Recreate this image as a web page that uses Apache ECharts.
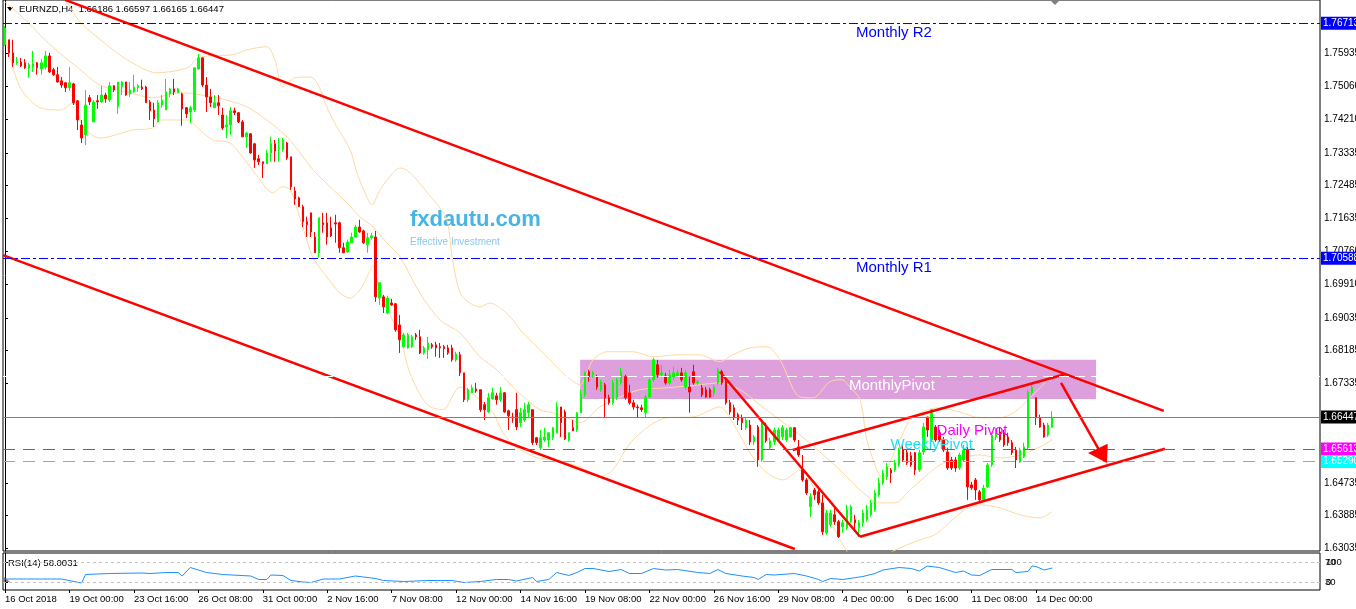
<!DOCTYPE html>
<html><head><meta charset="utf-8">
<script src="https://cdn.jsdelivr.net/npm/echarts@6/dist/echarts.min.js"></script>
<style>html,body{margin:0;padding:0;background:#fff;}#c{width:1356px;height:609px;}</style>
</head><body><div id="c"></div>
<script>
const timeLabels = ['16 Oct 2018','19 Oct 00:00','23 Oct 16:00','26 Oct 08:00','31 Oct 00:00','2 Nov 16:00','7 Nov 08:00','12 Nov 00:00','14 Nov 16:00','19 Nov 08:00','22 Nov 00:00','26 Nov 16:00','29 Nov 08:00','4 Dec 00:00','6 Dec 16:00','11 Dec 08:00','14 Dec 00:00'];
const slotCount = 327;
const priceTicks = [1.75935,1.75060,1.74210,1.73335,1.72485,1.71635,1.70760,1.69910,1.69035,1.68185,1.67335,1.64735,1.63885,1.63035];

const open = [
1.7615,1.7628,1.7594,1.7568,1.7570,1.7568,1.7555,1.7557,1.7568,1.7552,
1.7557,1.7586,1.7550,1.7537,1.7521,1.7516,1.7503,1.7513,1.7469,1.7406,
1.7380,1.7477,1.7414,1.7469,1.7466,1.7484,1.7471,1.7508,1.7453,1.7505,
1.7518,1.7487,1.7492,1.7503,1.7505,1.7505,1.7466,1.7445,1.7414,1.7458,
1.7445,1.7487,1.7500,1.7490,1.7487,1.7451,1.7440,1.7445,1.7552,1.7581,
1.7510,1.7479,1.7451,1.7464,1.7432,1.7401,1.7406,1.7443,1.7438,1.7414,
1.7375,1.7383,1.7357,1.7318,1.7310,1.7305,1.7333,1.7357,1.7344,1.7341,
1.7359,1.7323,1.7234,1.7216,1.7193,1.7154,1.7177,1.7114,1.7073,1.7151,
1.7151,1.7138,1.7151,1.7151,1.7086,1.7075,1.7099,1.7114,1.7140,1.7130,
1.7094,1.7112,1.7114,1.6955,1.6958,1.6916,1.6942,1.6940,1.6885,1.6828,
1.6825,1.6828,1.6859,1.6854,1.6812,1.6820,1.6833,1.6833,1.6828,1.6828,
1.6825,1.6825,1.6794,1.6807,1.6760,1.6690,1.6708,1.6718,1.6716,1.6677,
1.6658,1.6692,1.6700,1.6690,1.6708,1.6661,1.6645,1.6664,1.6630,1.6637,
1.6656,1.6664,1.6591,1.6565,1.6585,1.6585,1.6591,1.6604,1.6671,1.6658,
1.6585,1.6617,1.6611,1.6656,1.6703,1.6763,1.6755,1.6750,1.6716,1.6729,
1.6695,1.6682,1.6695,1.6734,1.6750,1.6708,1.6682,1.6671,1.6669,1.6656,
1.6697,1.6742,1.6781,1.6755,1.6752,1.6734,1.6750,1.6752,1.6760,1.6723,
1.6723,1.6763,1.6734,1.6721,1.6716,1.6716,1.6708,1.6734,1.6763,1.6737,
1.6682,1.6669,1.6651,1.6643,1.6617,1.6624,1.6580,1.6619,1.6533,1.6624,
1.6565,1.6580,1.6585,1.6593,1.6585,1.6593,1.6617,1.6567,1.6507,1.6481,
1.6411,1.6455,1.6450,1.6421,1.6343,1.6364,1.6390,1.6372,1.6359,1.6356,
1.6372,1.6377,1.6356,1.6369,1.6377,1.6390,1.6403,1.6442,1.6473,1.6489,
1.6507,1.6507,1.6520,1.6559,1.6552,1.6544,1.6552,1.6507,1.6554,1.6645,
1.6585,1.6619,1.6604,1.6585,1.6554,1.6533,1.6533,1.6512,1.6533,1.6559,
1.6468,1.6481,1.6450,1.6429,1.6463,1.6520,1.6593,1.6606,1.6604,1.6593,
1.6578,1.6559,1.6528,1.6541,1.6565,1.6708,1.6695,1.6643,1.6624,1.6598,
1.66186];
const close = [
1.7659,1.7594,1.7568,1.7570,1.7560,1.7555,1.7563,1.7565,1.7555,1.7568,
1.7586,1.7544,1.7537,1.7518,1.7510,1.7503,1.7516,1.7464,1.7419,1.7372,
1.7458,1.7466,1.7466,1.7466,1.7484,1.7474,1.7508,1.7497,1.7518,1.7518,
1.7484,1.7497,1.7505,1.7508,1.7500,1.7464,1.7443,1.7422,1.7464,1.7471,
1.7492,1.7500,1.7492,1.7500,1.7448,1.7435,1.7451,1.7555,1.7581,1.7510,
1.7479,1.7464,1.7464,1.7456,1.7398,1.7406,1.7443,1.7438,1.7414,1.7375,
1.7385,1.7333,1.7315,1.7310,1.7305,1.7333,1.7357,1.7338,1.7346,1.7367,
1.7320,1.7245,1.7213,1.7193,1.7154,1.7146,1.7127,1.7073,1.7164,1.7146,
1.7114,1.7117,1.7148,1.7086,1.7073,1.7101,1.7114,1.7140,1.7127,1.7099,
1.7112,1.7117,1.6958,1.6995,1.6932,1.6955,1.6937,1.6872,1.6846,1.6859,
1.6859,1.6854,1.6854,1.6812,1.6825,1.6838,1.6828,1.6825,1.6825,1.6823,
1.6812,1.6794,1.6809,1.6760,1.6690,1.6716,1.6721,1.6713,1.6664,1.6664,
1.6695,1.6708,1.6690,1.6708,1.6658,1.6648,1.6643,1.6619,1.6656,1.6664,
1.6677,1.6578,1.6578,1.6591,1.6593,1.6604,1.6617,1.6671,1.6630,1.6588,
1.6604,1.6609,1.6656,1.6703,1.6760,1.6750,1.6760,1.6723,1.6737,1.6695,
1.6682,1.6734,1.6742,1.6763,1.6695,1.6682,1.6671,1.6669,1.6664,1.6697,
1.6742,1.6794,1.6755,1.6760,1.6734,1.6755,1.6760,1.6760,1.6742,1.6760,
1.6710,1.6734,1.6737,1.6703,1.6697,1.6697,1.6723,1.6768,1.6734,1.6682,
1.6658,1.6643,1.6637,1.6630,1.6637,1.6580,1.6593,1.6533,1.6630,1.6583,
1.6583,1.6611,1.6611,1.6617,1.6611,1.6617,1.6585,1.6546,1.6481,1.6447,
1.6437,1.6442,1.6421,1.6346,1.6395,1.6395,1.6372,1.6333,1.6369,1.6403,
1.6411,1.6369,1.6369,1.6395,1.6403,1.6421,1.6447,1.6473,1.6499,1.6515,
1.6499,1.6525,1.6559,1.6533,1.6525,1.6520,1.6507,1.6552,1.6619,1.6611,
1.6664,1.6585,1.6585,1.6559,1.6512,1.6512,1.6512,1.6546,1.6559,1.6463,
1.6460,1.6455,1.6429,1.6460,1.6520,1.6598,1.6611,1.6585,1.6572,1.6578,
1.6552,1.6533,1.6559,1.6567,1.6710,1.6723,1.6643,1.6619,1.6593,1.6624,
1.66447];
const high = [
1.7664,1.7628,1.7628,1.7583,1.7581,1.7578,1.7568,1.7599,1.7570,1.7578,
1.7599,1.7594,1.7555,1.7557,1.7531,1.7518,1.7557,1.7516,1.7471,1.7419,
1.7497,1.7484,1.7471,1.7484,1.7508,1.7490,1.7518,1.7510,1.7518,1.7521,
1.7518,1.7518,1.7537,1.7513,1.7524,1.7508,1.7471,1.7464,1.7471,1.7484,
1.7526,1.7503,1.7526,1.7503,1.7490,1.7453,1.7456,1.7555,1.7591,1.7581,
1.7531,1.7500,1.7484,1.7484,1.7451,1.7432,1.7453,1.7451,1.7440,1.7419,
1.7388,1.7385,1.7359,1.7328,1.7310,1.7341,1.7375,1.7367,1.7372,1.7372,
1.7362,1.7323,1.7245,1.7219,1.7198,1.7167,1.7177,1.7127,1.7164,1.7177,
1.7177,1.7167,1.7172,1.7154,1.7099,1.7107,1.7125,1.7146,1.7159,1.7133,
1.7125,1.7125,1.7130,1.6997,1.6963,1.6961,1.6953,1.6942,1.6911,1.6864,
1.6864,1.6859,1.6864,1.6872,1.6830,1.6854,1.6838,1.6841,1.6838,1.6833,
1.6833,1.6833,1.6815,1.6815,1.6760,1.6721,1.6729,1.6734,1.6716,1.6684,
1.6708,1.6721,1.6708,1.6723,1.6710,1.6664,1.6656,1.6708,1.6669,1.6682,
1.6684,1.6664,1.6593,1.6611,1.6617,1.6604,1.6619,1.6684,1.6671,1.6664,
1.6604,1.6637,1.6658,1.6716,1.6763,1.6768,1.6765,1.6755,1.6742,1.6734,
1.6703,1.6742,1.6747,1.6773,1.6755,1.6729,1.6690,1.6677,1.6677,1.6703,
1.6747,1.6799,1.6794,1.6781,1.6760,1.6768,1.6776,1.6768,1.6773,1.6768,
1.6750,1.6781,1.6742,1.6729,1.6723,1.6721,1.6729,1.6773,1.6768,1.6742,
1.6690,1.6677,1.6656,1.6651,1.6643,1.6637,1.6598,1.6624,1.6632,1.6630,
1.6591,1.6617,1.6617,1.6624,1.6617,1.6619,1.6619,1.6585,1.6546,1.6486,
1.6447,1.6460,1.6460,1.6442,1.6403,1.6403,1.6408,1.6377,1.6377,1.6416,
1.6416,1.6390,1.6377,1.6403,1.6416,1.6429,1.6455,1.6486,1.6507,1.6525,
1.6512,1.6533,1.6565,1.6572,1.6559,1.6554,1.6554,1.6559,1.6630,1.6645,
1.6664,1.6624,1.6611,1.6593,1.6565,1.6541,1.6541,1.6552,1.6572,1.6567,
1.6476,1.6486,1.6455,1.6468,1.6525,1.6604,1.6617,1.6619,1.6611,1.6604,
1.6585,1.6567,1.6565,1.6578,1.6716,1.6734,1.6697,1.6651,1.6630,1.6630,
1.66597];
const low = [
1.7612,1.7583,1.7557,1.7563,1.7557,1.7552,1.7529,1.7544,1.7537,1.7537,
1.7550,1.7542,1.7534,1.7516,1.7503,1.7492,1.7495,1.7458,1.7393,1.7359,
1.7354,1.7458,1.7414,1.7448,1.7464,1.7464,1.7466,1.7492,1.7435,1.7484,
1.7482,1.7479,1.7490,1.7492,1.7497,1.7464,1.7419,1.7401,1.7414,1.7451,
1.7445,1.7479,1.7484,1.7490,1.7404,1.7424,1.7411,1.7440,1.7550,1.7505,
1.7440,1.7453,1.7451,1.7432,1.7393,1.7372,1.7380,1.7432,1.7411,1.7375,
1.7346,1.7331,1.7294,1.7302,1.7268,1.7305,1.7310,1.7310,1.7310,1.7336,
1.7315,1.7237,1.7198,1.7193,1.7140,1.7114,1.7114,1.7073,1.7060,1.7125,
1.7094,1.7114,1.7099,1.7073,1.7073,1.7073,1.7099,1.7112,1.7125,1.7096,
1.7073,1.7107,1.6945,1.6937,1.6916,1.6914,1.6935,1.6867,1.6812,1.6825,
1.6823,1.6825,1.6846,1.6809,1.6807,1.6796,1.6823,1.6802,1.6799,1.6799,
1.6807,1.6789,1.6789,1.6750,1.6684,1.6684,1.6708,1.6708,1.6658,1.6637,
1.6656,1.6690,1.6677,1.6684,1.6656,1.6611,1.6630,1.6611,1.6619,1.6632,
1.6645,1.6572,1.6572,1.6559,1.6580,1.6567,1.6585,1.6604,1.6593,1.6585,
1.6580,1.6609,1.6606,1.6656,1.6697,1.6737,1.6747,1.6716,1.6710,1.6645,
1.6677,1.6677,1.6690,1.6729,1.6690,1.6677,1.6664,1.6643,1.6658,1.6643,
1.6695,1.6737,1.6747,1.6750,1.6729,1.6729,1.6742,1.6747,1.6737,1.6716,
1.6656,1.6729,1.6729,1.6697,1.6695,1.6695,1.6697,1.6729,1.6729,1.6677,
1.6651,1.6637,1.6624,1.6611,1.6611,1.6572,1.6572,1.6515,1.6528,1.6578,
1.6559,1.6572,1.6583,1.6585,1.6580,1.6591,1.6580,1.6541,1.6476,1.6442,
1.6385,1.6429,1.6416,1.6338,1.6338,1.6359,1.6364,1.6330,1.6343,1.6351,
1.6369,1.6346,1.6333,1.6359,1.6372,1.6385,1.6398,1.6437,1.6468,1.6481,
1.6473,1.6502,1.6515,1.6528,1.6520,1.6515,1.6494,1.6502,1.6546,1.6593,
1.6580,1.6580,1.6580,1.6554,1.6507,1.6507,1.6502,1.6507,1.6528,1.6429,
1.6455,1.6429,1.6424,1.6424,1.6460,1.6515,1.6585,1.6580,1.6567,1.6570,
1.6546,1.6512,1.6525,1.6538,1.6559,1.6703,1.6624,1.6617,1.6591,1.6593,
1.66165];

// Bollinger Bands (20,2) read at sample bars
const bbUpperIdx = [0,8.7,14.9,18.6,24.3,30.3,37.7,45.2,48.4,56.6,60.1,65,67,69,72,75.7,77.5,79.9,82.4,85.7,87.4,89.4,91.1,93.1,96.3,98.1,106.3,109.7,111,113,115.4,117.9,120.4,123.6,126.1,128.6,132.1,135.3,139,142.8,144.5,146,149.5,155.9,160.9,166.8,172.5,177.5,180.7,185,189.2,192.4,197.4,200.6,204.8,207.8,209.8,212.3,214,216.5,218,219.7,222.2,225.4,232.1,237.1,242.1,247,250.7,254.5,258.2,259.9];
const bbUpper = [1.7888,1.7810,1.7732,1.7675,1.7623,1.7576,1.7542,1.7555,1.7583,1.7589,1.7602,1.7610,1.7576,1.7505,1.7529,1.7531,1.7516,1.7453,1.7401,1.7341,1.7281,1.7229,1.7198,1.7237,1.7281,1.7294,1.7211,1.7159,1.7062,1.6968,1.6942,1.6932,1.6942,1.6924,1.6898,1.6864,1.6828,1.6794,1.6755,1.6729,1.6760,1.6794,1.6815,1.6815,1.6802,1.6807,1.6807,1.6789,1.6807,1.6825,1.6828,1.6794,1.6697,1.6695,1.6737,1.6742,1.6723,1.6690,1.6585,1.6507,1.6481,1.6525,1.6585,1.6645,1.6669,1.6658,1.6643,1.6643,1.6658,1.6695,1.6734,1.6750];
const bbMidIdx = [0,5,11.7,17.9,23.6,30.3,36.7,43.4,51.6,56.6,60.1,65,70,74,76.5,80.7,84.9,88.1,91.4,94.8,98.1,103,108,113,117.9,122.1,126.1,129.6,132.8,136,139.5,142.8,147.7,152.7,157.6,164.4,172.5,177.5,182.5,187.4,192.4,197.4,202.3,207.3,212.3,217.2,221,224.7,228.4,232.1,237.1,242.1,247,252,257,259.9];
const bbMid = [1.7727,1.7680,1.7610,1.7557,1.7510,1.7492,1.7477,1.7490,1.7479,1.7466,1.7453,1.7419,1.7375,1.7323,1.7289,1.7245,1.7203,1.7167,1.7140,1.7099,1.7062,1.6968,1.6898,1.6864,1.6802,1.6768,1.6723,1.6690,1.6664,1.6656,1.6643,1.6630,1.6671,1.6697,1.6716,1.6721,1.6729,1.6734,1.6716,1.6677,1.6637,1.6598,1.6554,1.6507,1.6455,1.6421,1.6421,1.6455,1.6489,1.6520,1.6538,1.6546,1.6538,1.6546,1.6567,1.6585];
const bbLowerIdx = [0,3.7,8.7,13.7,16.9,19.4,23.6,31.8,36.7,38.5,45.2,48.4,51.6,55.9,60.1,63.3,66.5,68.8,70.8,72.2,74,76.5,79.9,83.2,85.7,88.1,89.9,91.4,93.1,98.1,100.5,104.8,108.7,113,117.9,121.2,123.6,127.1,132.1,136,142.8,147.7,150.9,155.9,164.3,170.8,177.5,180.7,185,189.2,193.2,197.4,201.1,204.8,208.5,212.3,217.2,222.2,227.2,230.9,234.7,238.3,242.1,247,252,257,259.9];
const bbLower = [1.7636,1.7505,1.7451,1.7445,1.7464,1.7401,1.7372,1.7393,1.7398,1.7419,1.7419,1.7393,1.7367,1.7359,1.7307,1.7263,1.7229,1.7245,1.7237,1.7198,1.7138,1.7060,1.7010,1.6968,1.6955,1.6976,1.7010,1.7041,1.6968,1.6854,1.6760,1.6677,1.6664,1.6723,1.6690,1.6656,1.6604,1.6565,1.6539,1.6533,1.6515,1.6489,1.6507,1.6585,1.6643,1.6645,1.6671,1.6630,1.6551,1.6499,1.6481,1.6507,1.6455,1.6377,1.6304,1.6260,1.6278,1.6304,1.6325,1.6338,1.6372,1.6403,1.6416,1.6408,1.6390,1.6382,1.6398];

// RSI(14) read at sample bars
const rsiIdx = [0,4,14,19,20,26,34,36,40,43,44,46,50,54,61,63,65,66,69,71,74,76,79,83,87,92,94,99,105,111,114,118,122,125,127,131,132,135,137,140,142,144,146,150,153,155,158,161,164,167,172,175,177,179,183,186,187,189,191,196,199,202,203,205,208,213,216,218,222,225,227,229,232,236,238,240,242,245,250,251,254,255,256,258,260];
const rsiVal = [36,36,36,28,45,47,48,47,49,49,42,59,49,45,42,35,35,44,43,33,30,29,36,36,42,37,33,31,33,33,29,31,35,35,32,39,31,35,49,43,49,57,57,51,55,47,47,57,54,55,49,47,55,47,42,39,35,45,44,47,42,35,31,37,35,41,47,54,59,57,52,62,59,49,52,44,43,55,55,49,51,62,61,54,58.0031];

// levels
const levelNames = ['Monthly R2','Monthly R1','MonthlyPivot','Daily Pivot','WeeklyPivot'];
const levelPrices = [1.76713, 1.70588, 1.67520, 1.65613, 1.65290];
const lastPrice = 1.66447;

// drawn objects (bar index, price)
const trendChannelUpper = [[14.9,1.7732],[287.7,1.6661]];
const trendChannelLower = [[-0.5,1.7067],[196.1,1.6301]];
const trendDown = [[177.5,1.6763],[212.3,1.6333]];
const riseLower = [[212.3,1.6333],[288.0,1.6562]];
const riseUpper = [[195.6,1.6559],[263.4,1.6757]];
const arrowShaft = [[262.2,1.6734],[271.6,1.6560]];
const arrowHead = [[268.9,1.6551],[273.8,1.6575],[273.6,1.6525]];
const pivotZone = [[142.8,1.6794],[270.9,1.6692]];

const FONT = '"Liberation Sans", Arial, sans-serif';
const cats = Array.from({length: slotCount}, (_, i) => i);
const candleData = open.map((o, i) => [o, close[i], low[i], high[i]]);
const zip = (a, b) => a.slice(0, Math.min(a.length, b.length)).map((x, i) => [x, b[i]]);
const showTick = (i) => i % 16 === 0 && i / 16 < timeLabels.length;

const chart = echarts.init(document.getElementById('c'), null, {renderer: 'canvas'});

function lineSeries(name, data) {
  return {name, type: 'line', xAxisIndex: 1, yAxisIndex: 0, data, symbol: 'none', z: 4, silent: true,
    lineStyle: {color: '#FF0000', width: 2.5}, clip: true};
}
function bbSeries(name, idx, val) {
  return {name, type: 'line', xAxisIndex: 1, yAxisIndex: 0, data: zip(idx, val), symbol: 'none', z: 2, silent: true,
    smooth: 0.3, lineStyle: {color: '#FFD9A0', width: 1}, clip: true};
}
function boxLabel(bg, fg) {
  return {show: true, position: 'end', distance: 1, formatter: (p) => Number(p.value).toFixed(5),
    backgroundColor: bg, color: fg, fontSize: 10, fontFamily: FONT, padding: [2, 3, 1, 2]};
}
const textColors = ['#0000FF', '#0000FF', '#FFFFFF', '#FF00FF', '#20E0F0'];
const textAt = [[220.7, 1.7647], [220.7, 1.7034], [220.2, 1.6726], [240.1, 1.6609], [230.1, 1.6572]];

const option = {
  animation: false,
  backgroundColor: '#ffffff',
  grid: [
    {left: 3, top: 0, width: 1317, height: 551, show: true, borderColor: '#000', borderWidth: 1, backgroundColor: '#fff', outerBoundsMode: 'none', containLabel: false},
    {left: 3, top: 553, width: 1317, height: 37, show: true, borderColor: '#000', borderWidth: 1, outerBoundsMode: 'none', containLabel: false}
  ],
  xAxis: [
    {type: 'category', gridIndex: 0, data: cats, boundaryGap: true, show: false},
    {type: 'value', gridIndex: 0, min: -0.5, max: slotCount - 0.5, show: false},
    {type: 'category', gridIndex: 1, data: cats, boundaryGap: true,
      axisLine: {show: false},
      axisTick: {show: true, alignWithLabel: true, interval: showTick, length: 3, lineStyle: {color: '#000'}},
      axisLabel: {show: true, interval: showTick, formatter: (v, i) => timeLabels[i / 16], align: 'left', margin: 4,
        fontSize: 9.5, color: '#000', fontFamily: FONT}},
    {type: 'value', gridIndex: 1, min: -0.5, max: slotCount - 0.5, show: false}
  ],
  yAxis: [
    {type: 'value', gridIndex: 0, position: 'right', min: 1.62957, max: 1.77317, splitLine: {show: false},
      axisLine: {show: true, lineStyle: {color: '#000'}},
      axisTick: {show: true, customValues: priceTicks, length: 3, lineStyle: {color: '#000'}},
      axisLabel: {show: true, customValues: priceTicks, formatter: (v) => v.toFixed(5), fontSize: 10, color: '#000', margin: 4, fontFamily: FONT}},
    {type: 'value', gridIndex: 1, position: 'right', min: 14, max: 88, splitLine: {show: false},
      axisLine: {show: true, lineStyle: {color: '#000'}},
      axisTick: {show: true, customValues: [30, 70], length: 3, lineStyle: {color: '#000'}},
      axisLabel: {show: true, customValues: [30, 70], fontSize: 9.5, color: '#000', margin: 5, fontFamily: FONT}}
  ],
  series: [
    {name: 'zone', type: 'line', xAxisIndex: 1, yAxisIndex: 0, data: [], z: 1, silent: true,
      markArea: {silent: true, itemStyle: {color: '#DDA0DD'},
        data: [[{coord: pivotZone[0]}, {coord: pivotZone[1]}]]}},
    bbSeries('bbUpper', bbUpperIdx, bbUpper),
    bbSeries('bbMid', bbMidIdx, bbMid),
    bbSeries('bbLower', bbLowerIdx, bbLower),
    {name: 'levels', type: 'line', xAxisIndex: 1, yAxisIndex: 0, data: [], z: 2, silent: true,
      markLine: {silent: true, symbol: ['none', 'none'], animation: false, precision: 5,
        data: [
          {yAxis: levelPrices[0], lineStyle: {color: '#0000FF', width: 1, type: [9, 3, 3, 3]}, label: boxLabel('#0000FF', '#fff')},
          {yAxis: levelPrices[1], lineStyle: {color: '#0000FF', width: 1, type: [9, 3, 3, 3]}, label: boxLabel('#0000FF', '#fff')},
          {yAxis: levelPrices[2], lineStyle: {color: '#FFFFFF', width: 1, type: [10, 6]}, label: {show: false}},
          {yAxis: levelPrices[3], lineStyle: {color: '#FF00FF', width: 1.2, type: [12, 8]}, label: boxLabel('#FF00FF', '#fff')},
          {yAxis: levelPrices[4], lineStyle: {color: '#00E8F0', width: 1.2, type: [12, 8]}, label: boxLabel('#00FFFF', '#fff')},
          {yAxis: lastPrice, lineStyle: {color: '#808080', width: 1, type: 'solid'}, label: boxLabel('#000000', '#fff')}
        ]}},
    {name: 'EURNZD', type: 'candlestick', xAxisIndex: 0, yAxisIndex: 0, data: candleData, z: 3, silent: true,
      barWidth: 2,
      itemStyle: {color: '#00FF00', color0: '#FF0000', borderColor: '#00FF00', borderColor0: '#FF0000', borderWidth: 1}},
    lineSeries('channelUpper', trendChannelUpper),
    lineSeries('channelLower', trendChannelLower),
    lineSeries('trendDown', trendDown),
    lineSeries('riseLower', riseLower),
    lineSeries('riseUpper', riseUpper),
    lineSeries('arrowShaft', arrowShaft),
    {name: 'arrowHead', type: 'custom', xAxisIndex: 1, yAxisIndex: 0, data: [0], z: 5, silent: true,
      renderItem: (params, api) => ({type: 'polygon', shape: {points: arrowHead.map((p) => api.coord(p))}, style: {fill: '#FF0000'}})},
    {name: 'texts', type: 'line', xAxisIndex: 1, yAxisIndex: 0, data: [], z: 6, silent: true,
      markPoint: {silent: true, symbol: 'rect', symbolSize: 1, itemStyle: {color: 'rgba(0,0,0,0)'},
        data: levelNames.map((n, i) => ({coord: textAt[i], value: n,
          label: {show: true, position: 'inside', formatter: n, color: textColors[i], fontSize: 15, fontFamily: 'Arial, "Liberation Sans", sans-serif'}}))}},
    {name: 'RSI(14)', type: 'line', xAxisIndex: 3, yAxisIndex: 1, data: zip(rsiIdx, rsiVal), symbol: 'none', silent: true,
      lineStyle: {color: '#1E90FF', width: 1}, z: 3,
      markLine: {silent: true, symbol: ['none', 'none'], precision: 2,
        data: [
          {yAxis: 70, lineStyle: {color: '#C0C0C0', type: [3, 3], width: 1}, label: {show: true, position: 'end', distance: 6, formatter: '100', fontSize: 9.5, color: '#000', fontFamily: FONT}},
          {yAxis: 30, lineStyle: {color: '#C0C0C0', type: [3, 3], width: 1}, label: {show: true, position: 'end', distance: 6, formatter: '0', fontSize: 9.5, color: '#000', fontFamily: FONT}}
        ]}}
  ],
  graphic: [
    {type: 'polygon', shape: {points: [[7, 7], [13, 7], [10, 11]]}, style: {fill: '#000'}},
    {type: 'text', x: 19, y: 4, style: {text: 'EURNZD,H4  1.66186 1.66597 1.66165 1.66447', font: '9.5px ' + FONT, fill: '#000'}},
    {type: 'polygon', shape: {points: [[1050, 0], [1060, 0], [1055, 5]]}, style: {fill: '#808080'}},
    {type: 'text', x: 410, y: 209, style: {text: 'fxdautu.com', font: 'bold 22px ' + FONT, fill: '#45B5E5'}},
    {type: 'text', x: 410, y: 237, style: {text: 'Effective Investment', font: '10px ' + FONT, fill: '#8DC8EA'}},
    {type: 'text', x: 8, y: 558, style: {text: 'RSI(14) 58.0031', font: '9.5px ' + FONT, fill: '#000'}},
    {type: 'polygon', shape: {points: [[4, 577], [4, 582], [10, 582]]}, style: {fill: '#808080'}}
  ]
};
chart.setOption(option);
</script></body></html>
